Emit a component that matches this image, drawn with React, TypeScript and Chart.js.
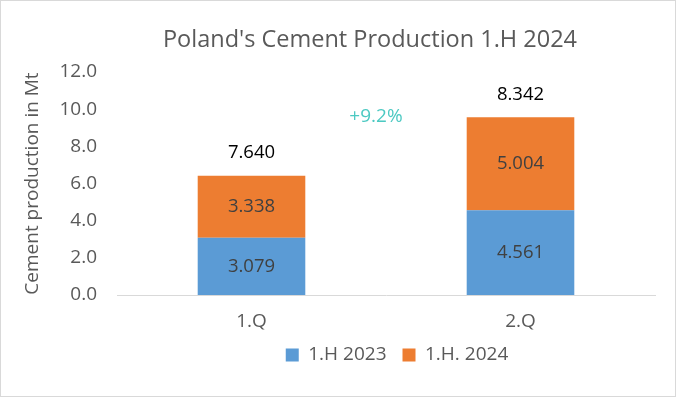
import React, { useEffect, useRef } from "react";
import { Chart, registerables } from "chart.js";

Chart.register(...registerables);

const categories = ["1.Q", "2.Q"];
const series2023 = [3.079, 4.561];
const series2024 = [3.338, 5.004];
const seriesNames = ["1.H 2023", "1.H. 2024"];
const totalLabels = ["7.640", "8.342"];
const growthLabel = "+9.2%";
const titleText = "Poland's Cement Production 1.H 2024";
const yTitle = "Cement production in Mt";

const FONT = "'Open Sans', sans-serif";

const labelsPlugin = {
  id: "customLabels",
  afterLayout(chart: any) {
    // Excel centers the legend slightly right of the plot-area center
    if (chart.legend) {
      chart.legend.left += 11;
      chart.legend.right += 11;
    }
  },
  afterDatasetsDraw(chart: any) {
    const ctx = chart.ctx;
    const xs = chart.scales.x;
    const ys = chart.scales.y;
    ctx.save();
    ctx.textAlign = "center";
    ctx.textBaseline = "middle";
    // chart title
    ctx.font = `23.5px ${FONT}`;
    ctx.fillStyle = "#595959";
    ctx.fillText(titleText, chart.width / 2 + 32, 39);
    // segment labels
    chart.data.datasets.forEach((ds: any, di: number) => {
      const meta = chart.getDatasetMeta(di);
      meta.data.forEach((bar: any, i: number) => {
        const v = ds.data[i];
        const yc = (bar.y + bar.base) / 2;
        ctx.font = `18.5px ${FONT}`;
        ctx.fillStyle = "#404040";
        ctx.fillText(v.toFixed(3), bar.x, yc);
      });
    });
    // totals above stacks
    categories.forEach((_, i) => {
      const top = series2023[i] + series2024[i];
      const x = xs.getPixelForValue(i);
      const y = ys.getPixelForValue(top) - 23;
      ctx.font = `18.5px ${FONT}`;
      ctx.fillStyle = "#000000";
      ctx.fillText(totalLabels[i], x, y);
    });
    // growth label
    const gx = (xs.getPixelForValue(0) + xs.getPixelForValue(1)) / 2 - 10;
    const gy = ys.getPixelForValue(9.58);
    ctx.font = `19px ${FONT}`;
    ctx.fillStyle = "#4CC9C2";
    ctx.fillText(growthLabel, gx, gy);
    ctx.restore();
  },
};

export default function App() {
  const ref = useRef<HTMLCanvasElement>(null);
  useEffect(() => {
    document.body.style.margin = "0";
    const chart = new Chart(ref.current!, {
      type: "bar",
      data: {
        labels: categories,
        datasets: [
          {
            label: seriesNames[0],
            data: series2023,
            backgroundColor: "#5B9BD5",
            barPercentage: 0.4,
            categoryPercentage: 1,
          },
          {
            label: seriesNames[1],
            data: series2024,
            backgroundColor: "#ED7D31",
            barPercentage: 0.4,
            categoryPercentage: 1,
          },
        ],
      },
      options: {
        responsive: false,
        animation: false,
        layout: { padding: { left: 0, right: 20, top: 71, bottom: 21.5 } },
        plugins: {
          title: { display: false },
          legend: {
            position: "bottom",
            fullSize: false,
            labels: {
              color: "#595959",
              font: { family: FONT, size: 19 },
              boxWidth: 13,
              boxHeight: 13,
              padding: 16,
            },
          },
          tooltip: { enabled: false },
        },
        scales: {
          x: {
            stacked: true,
            grid: { display: false, drawTicks: false },
            border: { display: true, color: "#D9D9D9", width: 1 },
            ticks: {
              color: "#595959",
              font: { family: FONT, size: 19 },
              padding: 15,
            },
            afterFit: (scale: any) => {
              scale.height = 34.5;
            },
          },
          y: {
            stacked: true,
            min: 0,
            max: 12,
            grid: { display: false, drawTicks: false },
            border: { display: false },
            ticks: {
              stepSize: 2,
              color: "#595959",
              font: { family: FONT, size: 19 },
              padding: 20,
              callback: (v: any) => Number(v).toFixed(1),
            },
            title: {
              display: true,
              text: yTitle,
              color: "#595959",
              font: { family: FONT, size: 19 },
              padding: { top: 20, bottom: 0 },
            },
            afterFit: (scale: any) => {
              scale.width = 116;
            },
          },
        },
      },
      plugins: [labelsPlugin],
    });
    return () => chart.destroy();
  }, []);
  return (
    <div
      style={{
        position: "absolute",
        left: 0,
        top: 0,
        width: 676,
        height: 397,
        boxSizing: "border-box",
        border: "1px solid #D9D9D9",
        background: "#fff",
      }}
    >
      <canvas ref={ref} width={674} height={395} style={{ display: "block" }} />
    </div>
  );
}
